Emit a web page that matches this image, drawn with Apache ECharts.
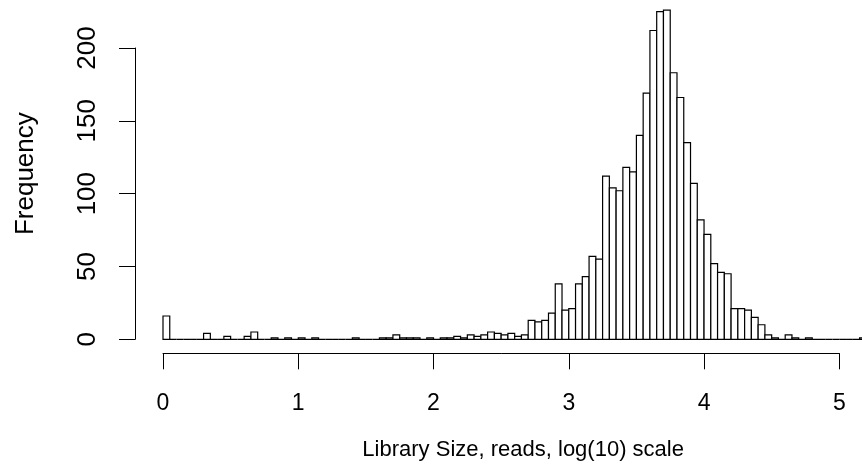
<!DOCTYPE html>
<html>
<head>
<meta charset="utf-8">
<title>Library Size histogram</title>
<script src="https://cdn.jsdelivr.net/npm/echarts@6/dist/echarts.min.js"></script>
<style>
    html, body { margin: 0; padding: 0; background: #fff; }
    #chart { width: 862px; height: 468px; }
</style>
</head>
<body>
<div id="chart"></div>
<script>
// 直方图数据 (log10 文库大小, 每个区间宽 0.05)
const binWidth = 0.05;
const counts = [
    16, 0, 0, 0, 0, 0, 4, 0, 0, 2,
    0, 0, 2, 5, 0, 0, 1, 0, 1, 0,
    1, 0, 1, 0, 0, 0, 0, 0, 1, 0,
    0, 0, 1, 1, 3, 1, 1, 1, 0, 1,
    0, 1, 1, 2, 1, 3, 2, 3, 5, 4,
    3, 4, 2, 3, 13, 12, 13, 18, 38, 20,
    21, 38, 43, 57, 55, 112, 104, 102, 118, 115,
    140, 169, 212, 225, 226, 183, 166, 135, 107, 82,
    72, 52, 46, 45, 21, 21, 20, 15, 10, 3,
    1, 0, 3, 1, 0, 1, 0, 0, 0, 0,
    0, 0, 0, 1
];
const xTicks = [0, 1, 2, 3, 4, 5];
const yTicks = [0, 50, 100, 150, 200];

const font = "'Liberation Sans', Arial, Helvetica, sans-serif";

document.addEventListener('DOMContentLoaded', function() {
    const chart = echarts.init(document.getElementById('chart'), null, { renderer: 'canvas' });

    // 每个柱子: [起点, 终点, 频数]
    const bars = counts.map(function(c, i) {
        return [i * binWidth, (i + 1) * binWidth, c];
    });

    chart.setOption({
        animation: false,
        backgroundColor: '#fff',
        grid: {
            left: 163,
            top: 48,
            width: 676.3,
            height: 291.3
        },
        xAxis: {
            type: 'value',
            min: xTicks[0],
            max: xTicks[xTicks.length - 1],
            interval: 1,
            offset: 14,
            axisLine: { show: true, onZero: false, lineStyle: { color: '#000', width: 1 } },
            axisTick: { show: true, inside: false, length: 16, lineStyle: { color: '#000', width: 1 } },
            axisLabel: { color: '#000', fontFamily: font, fontSize: 23, margin: 39 },
            splitLine: { show: false },
            name: 'Library Size, reads, log(10) scale',
            nameLocation: 'middle',
            nameGap: 86,
            nameTextStyle: { color: '#000', fontFamily: font, fontSize: 22, padding: [0, 0, 0, 44] }
        },
        yAxis: {
            type: 'value',
            min: yTicks[0],
            max: yTicks[yTicks.length - 1],
            interval: 50,
            offset: 28,
            axisLine: { show: true, onZero: false, lineStyle: { color: '#000', width: 1 } },
            axisTick: { show: true, inside: false, length: 16, lineStyle: { color: '#000', width: 1 } },
            axisLabel: { color: '#000', fontFamily: font, fontSize: 26, margin: 34, rotate: 90 },
            splitLine: { show: false },
            name: 'Frequency',
            nameLocation: 'middle',
            nameRotate: 90,
            nameGap: 96,
            nameTextStyle: { color: '#000', fontFamily: font, fontSize: 26, padding: [0, 0, 0, 40] }
        },
        series: [{
            type: 'custom',
            clip: false,
            data: bars,
            encode: { x: [0, 1], y: 2 },
            renderItem: function(params, api) {
                const p0 = api.coord([api.value(0), api.value(2)]);
                const p1 = api.coord([api.value(1), 0]);
                return {
                    type: 'rect',
                    shape: { x: p0[0], y: p0[1], width: p1[0] - p0[0], height: p1[1] - p0[1] },
                    style: { fill: '#fff', stroke: '#000', lineWidth: 1.2 }
                };
            }
        }]
    });
});
</script>
</body>
</html>
